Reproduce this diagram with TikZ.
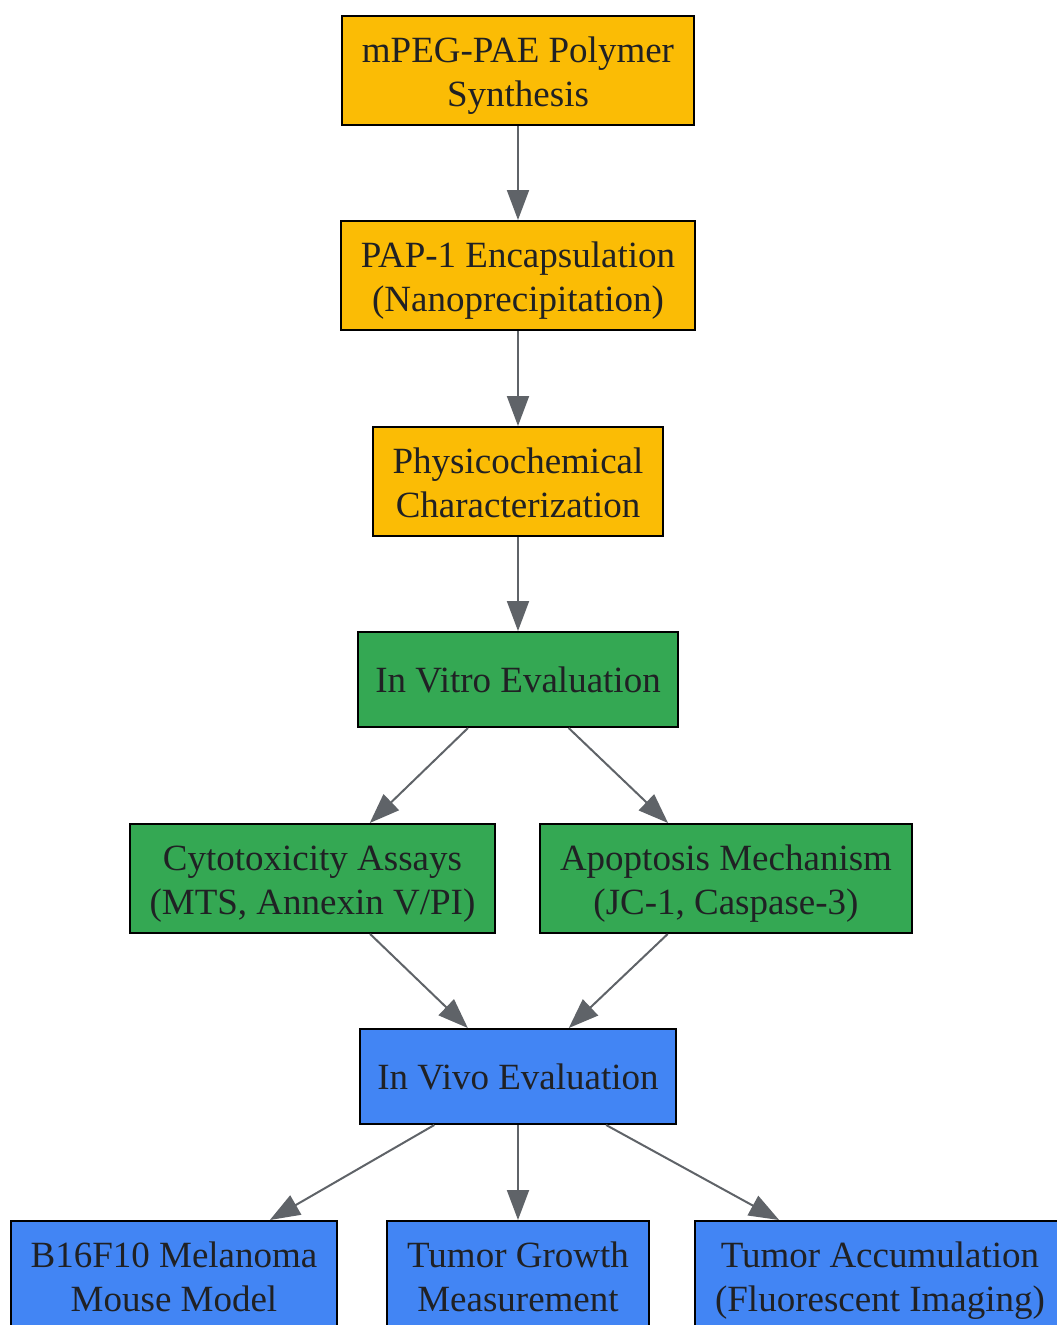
\documentclass[tikz,border=0pt]{standalone}
\usepackage{fontspec}
\setmainfont{Liberation Serif}
\usetikzlibrary{arrows.meta}
\definecolor{synthfill}{HTML}{FBBC05}
\definecolor{vitrofill}{HTML}{34A853}
\definecolor{vivofill}{HTML}{4285F4}
\definecolor{inktext}{HTML}{202124}
\definecolor{arrowgray}{HTML}{5F6368}

\begin{document}
\begin{tikzpicture}[x=1pt,y=-1pt,
    stage/.style={draw=black,line width=2pt,text=inktext,align=center,
    font=\fontsize{37}{44}\selectfont,inner xsep=20pt,inner ysep=0pt,
    minimum height=109pt,text height=75pt,text depth=4pt},
    oneline/.style={minimum height=95pt,inner xsep=17.5pt,
    text height=26pt,text depth=0pt},
    prep/.style={stage,fill=synthfill},
    vitro/.style={stage,fill=vitrofill},
    vivo/.style={stage,fill=vivofill},
    flow/.style={draw=arrowgray,line width=2pt,
    -{Triangle[length=30pt,width=22pt]}}]
  \useasboundingbox (0,0) rectangle (1057,1325);

  \node[prep] (synth) at (518,70.5) {mPEG-PAE Polymer\\Synthesis};
  \node[prep] (encap) at (518,275.5) {PAP-1 Encapsulation\\(Nanoprecipitation)};
  \node[prep] (charac) at (518,481.5) {Physicochemical\\Characterization};

  \node[vitro,oneline] (invitro) at (518,679.5) {In Vitro Evaluation};
  \node[vitro] (cyto) at (312.5,878.5) {Cytotoxicity Assays\\(MTS, Annexin V/PI)};
  \node[vitro] (apop) at (726,878.5) {Apoptosis Mechanism\\(JC-1, Caspase-3)};

  \node[vivo,oneline] (invivo) at (518,1076.5) {In Vivo Evaluation};
  \node[vivo] (model) at (174,1275.5) {B16F10 Melanoma\\Mouse Model};
  \node[vivo] (growth) at (518,1275.5) {Tumor Growth\\Measurement};
  \node[vivo] (accum) at (880,1275.5) {Tumor Accumulation\\(Fluorescent Imaging)};

  \draw[flow] (synth) -- (encap);
  \draw[flow] (encap) -- (charac);
  \draw[flow] (charac) -- (invitro);
  \draw[flow] (invitro) -- (cyto);
  \draw[flow] (invitro) -- (apop);
  \draw[flow] (cyto) -- (invivo);
  \draw[flow] (apop) -- (invivo);
  \draw[flow] (invivo) -- (model);
  \draw[flow] (invivo) -- (growth);
  \draw[flow] (invivo) -- (accum);
\end{tikzpicture}
\end{document}
